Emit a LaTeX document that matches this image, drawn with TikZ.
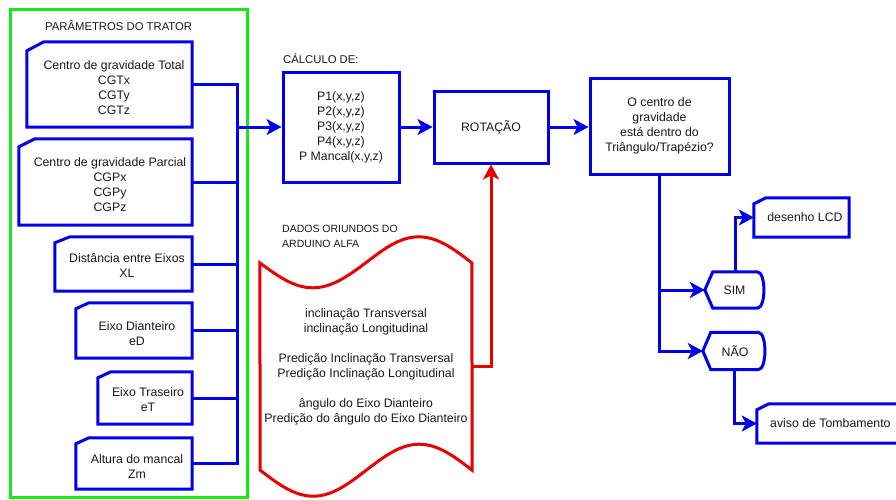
\documentclass[tikz,border=0pt]{standalone}
\usepackage{fontspec}
\setmainfont{Liberation Sans}
\usetikzlibrary{arrows.meta}

\definecolor{flowblue}{RGB}{0,0,235}
\definecolor{framegreen}{RGB}{20,235,20}
\definecolor{datared}{RGB}{232,0,0}
\definecolor{ink}{RGB}{25,25,25}

\tikzset{
  line/.style={draw=flowblue, line width=3pt},
  arr/.style={line, -{Stealth[length=15pt,width=16pt,inset=4pt]}},
  redline/.style={draw=datared, line width=3pt},
  redarr/.style={redline, -{Stealth[length=15pt,width=16pt,inset=4pt]}},
  area/.style={rectangle, draw=none, inner sep=0pt},
  boxed/.style={rectangle, line, inner sep=0pt},
  txt/.style={text=ink, font=\fontsize{12.3}{15}\selectfont, align=center, inner sep=0pt},
  heading/.style={text=ink, font=\fontsize{11.3}{14}\selectfont, anchor=west, inner sep=0pt},
  smallhead/.style={text=ink, font=\fontsize{10.5}{15.5}\selectfont, anchor=west, align=left, inner sep=0pt},
}

% card outline with the top-left corner cut off
\newcommand\cardoutline[3]{%
  \draw[line] (#1.south west) -- ([yshift=-#3pt]#1.north west)
    -- ([xshift=#2pt]#1.north west) -- (#1.north east) -- (#1.south east) -- cycle;}
% display outline: pointed left side, rounded right side
\newcommand\tagoutline[1]{%
  \draw[line] (#1.west) -- ([xshift=8pt]#1.north west) -- ([xshift=-8pt]#1.north east)
    .. controls ([xshift=1pt]#1.north east) and ([xshift=1pt]#1.south east) .. ([xshift=-8pt]#1.south east)
    -- ([xshift=8pt]#1.south west) -- cycle;}

\begin{document}
\begin{tikzpicture}[x=1pt, y=-1pt]
\clip (0,0) rectangle (896,499);
\fill[white] (0,0) rectangle (896,499);

% tractor parameters group
\node[area, draw=framegreen, line width=3pt, minimum width=237, minimum height=488] (frame) at (128.5,253) {};
\node[heading] (ptitle) at (45,26) {PARÂMETROS DO TRATOR};

\node[area, minimum width=165, minimum height=85] (b1) at (109.5,84.5) {};
\node[area, minimum width=173, minimum height=86] (b2) at (105.5,182) {};
\node[area, minimum width=137, minimum height=54] (b3) at (123.5,264) {};
\node[area, minimum width=116, minimum height=55] (b4) at (134,330.5) {};
\node[area, minimum width=94, minimum height=52] (b5) at (145,398) {};
\node[area, minimum width=116, minimum height=51] (b6) at (134,463.5) {};
\cardoutline{b1}{17}{9}
\cardoutline{b2}{16}{8}
\cardoutline{b3}{15}{6}
\cardoutline{b4}{13}{6}
\cardoutline{b5}{13}{6}
\cardoutline{b6}{13}{6}

\node[txt] (t1) at (114,87.5) {Centro de gravidade Total\\CGTx\\CGTy\\CGTz};
\node[txt] (t2) at (110,185) {Centro de gravidade Parcial\\CGPx\\CGPy\\CGPz};
\node[txt] (t3) at (127,265.5) {Distância entre Eixos\\XL};
\node[txt] (t4) at (137,333.5) {Eixo Dianteiro\\eD};
\node[txt] (t5) at (148,400) {Eixo Traseiro\\eT};
\node[txt] (t6) at (137,466.5) {Altura do mancal\\Zm};

% collecting bus
\coordinate (bus) at (237,0);
\draw[line] (b1.east) -| (bus |- b6.east) -- (b6.east);
\draw[line] (b2.east) -- (bus |- b2.east);
\draw[line] (b3.east) -- (bus |- b3.east);
\draw[line] (b4.east) -- (bus |- b4.east);
\draw[line] (b5.east) -- (bus |- b5.east);

% calculation and rotation
\node[heading] (ctitle) at (283,59) {CÁLCULO DE:};
\node[boxed, minimum width=116, minimum height=110] (calc) at (341,127) {};
\node[txt] (ctext) at (341,127.5) {P1(x,y,z)\\P2(x,y,z)\\P3(x,y,z)\\P4(x,y,z)\\P Mancal(x,y,z)};
\node[boxed, minimum width=114, minimum height=72, txt] (rot) at (491,127) {ROTAÇÃO};
\node[boxed, minimum width=139, minimum height=96, txt] (dec) at (659.5,126)
  {O centro de\\gravidade\\está dentro do\\Triângulo/Trapézio?};

\draw[arr] (bus |- calc.west) -- (calc.west);
\draw[arr] (calc.east) -- (rot.west);
\draw[arr] (rot.east) -- (rot.east -| dec.west);

% sensor data
\node[smallhead] (dtitle) at (282,236.5) {DADOS ORIUNDOS DO\\ARDUINO ALFA};
\node[area, minimum width=212, minimum height=207] (dados) at (366,366.5) {};
\draw[redline] (dados.north west) sin ++(53,25) cos ++(53,-25) sin ++(53,-26) cos ++(53,26)
  -- (dados.south east) sin ++(-53,-26) cos ++(-53,26) sin ++(-53,26) cos ++(-53,-26) -- cycle;
\node[txt] (dtext) at (366,366.5) {inclinação Transversal\\inclinação Longitudinal\\[15pt]
  Predição Inclinação Transversal\\Predição Inclinação Longitudinal\\[15pt]
  ângulo do Eixo Dianteiro\\Predição do ângulo do Eixo Dianteiro};
\draw[redarr] (dados.east) -| (rot.south);

% decision outcomes
\node[area, minimum width=60, minimum height=36] (sim) at (735,290) {};
\node[area, minimum width=63, minimum height=37] (nao) at (734.5,351) {};
\tagoutline{sim}
\tagoutline{nao}
\node[txt] (simt) at (734.5,290) {SIM};
\node[txt] (naot) at (735,351) {NÃO};

\node[area, minimum width=95, minimum height=39] (lcd) at (801.5,217.5) {};
\node[area, minimum width=153, minimum height=39] (aviso) at (833.5,423.5) {};
\cardoutline{lcd}{12}{6}
\cardoutline{aviso}{12}{6}
\node[txt] (lcdt) at (805,217.5) {desenho LCD};
\node[txt, anchor=west] (avisot) at (770,423.5) {aviso de Tombamento};

\draw[arr] (dec.south) |- (nao.west);
\draw[arr] (dec.south |- sim.west) -- (sim.west);
\draw[arr] (sim.north) |- (lcd.west);
\draw[arr] (nao.south) |- (aviso.west);
\end{tikzpicture}
\end{document}
